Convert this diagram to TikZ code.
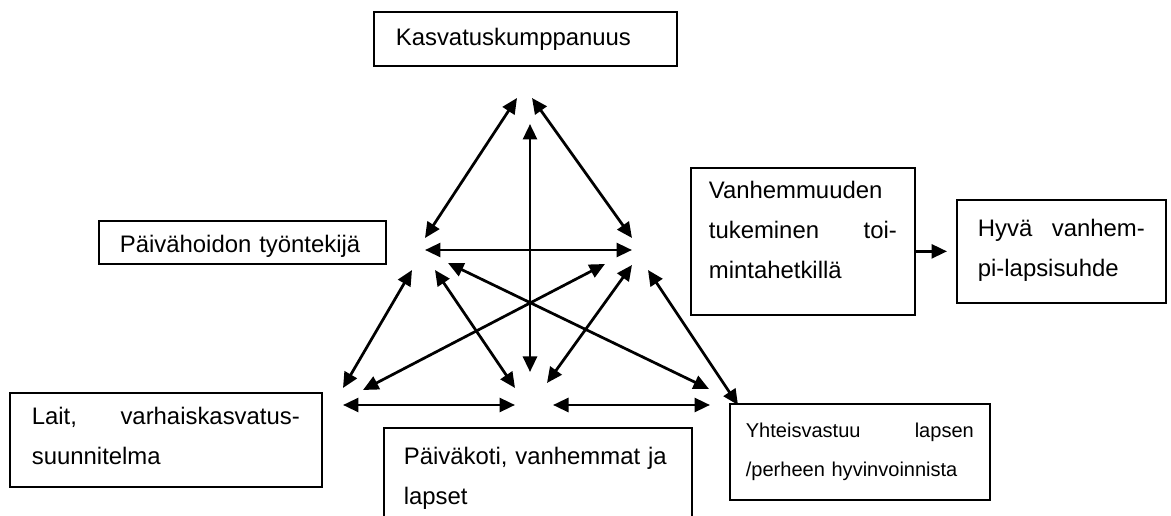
\documentclass[tikz,border=0pt]{standalone}
\usepackage{fontspec}
\setmainfont{Liberation Sans}
\usetikzlibrary{arrows.meta}

\begin{document}
\begin{tikzpicture}[x=0.02cm, y=-0.02cm,
        >={Triangle[length=0.31cm, width=0.28cm]},
        box/.style={draw, line width=0.035cm, anchor=north west, inner ysep=0pt,
            align=left, font=\fontsize{13.6}{22.7}\selectfont},
        link/.style={<->, line width=0.055cm},
        lead/.style={->, line width=0.055cm}]
        \useasboundingbox (0,0) rectangle (1171,516);

        \node[box, inner xsep=0.44cm, text width=5.18cm, text height=0.68cm, text depth=0.4cm]
            (kasv) at (373,11) {Kasvatuskumppanuus};
        \node[box, inner xsep=0.42cm, text width=4.9cm, text height=0.64cm, text depth=0.22cm]
            (tyontekija) at (98,220) {Päivähoidon työntekijä};
        \node[box, inner xsep=0.36cm, text width=3.76cm, text height=0.62cm, text depth=2.32cm]
            (tuki) at (690,167) {Vanhemmuuden\\tukeminen\hfill toi-\\mintahetkillä};
        \node[box, inner xsep=0.42cm, text width=3.34cm, text height=0.74cm, text depth=1.32cm]
            (suhde) at (956,199) {Hyvä\hfill vanhem-\\pi-lapsisuhde};
        \node[box, inner xsep=0.44cm, text width=5.36cm, text height=0.64cm, text depth=1.24cm]
            (lait) at (9,392) {Lait,\hfill varhaiskasvatus-\\suunnitelma};
        \node[box, inner xsep=0.4cm, text width=5.36cm, text height=0.74cm, text depth=1.92cm]
            (paivakoti) at (383,427) {Päiväkoti, vanhemmat ja\\lapset};
        \node[box, inner xsep=0.32cm, text width=4.56cm, text height=0.68cm, text depth=1.24cm,
            font=\fontsize{11.4}{22.1}\selectfont]
            (yhteis) at (729,403) {Yhteisvastuu\hfill lapsen\\/perheen hyvinvoinnista};

        \coordinate (topL) at (517,98);
        \coordinate (topR) at (532,98);
        \coordinate (topC) at (530,124);
        \coordinate (ulA) at (425,238);
        \coordinate (ulB) at (425,250);
        \coordinate (ulC) at (412,270);
        \coordinate (ulD) at (435,270);
        \coordinate (ulE) at (448,263);
        \coordinate (urA) at (632,238);
        \coordinate (urB) at (632,250);
        \coordinate (urC) at (648,270);
        \coordinate (urD) at (632,265);
        \coordinate (urE) at (605,264);
        \coordinate (llA) at (343,388);
        \coordinate (llB) at (363,390);
        \coordinate (llC) at (343,405);
        \coordinate (bcA) at (515,388);
        \coordinate (bcB) at (530,372);
        \coordinate (bcC) at (547,383);
        \coordinate (bcD) at (515,405);
        \coordinate (bcE) at (553,405);
        \coordinate (lrA) at (709,389);
        \coordinate (lrB) at (738,405);
        \coordinate (lrC) at (710,405);

        \draw[link] (topL) -- (ulA);
        \draw[link] (topR) -- (urA);
        \draw[link] (topC) -- (bcB);
        \draw[link] (ulB) -- (urB);
        \draw[link] (ulC) -- (llA);
        \draw[link] (urE) -- (llB);
        \draw[link] (ulD) -- (bcA);
        \draw[link] (ulE) -- (lrA);
        \draw[link] (urD) -- (bcC);
        \draw[link] (urC) -- (lrB);
        \draw[link] (llC) -- (bcD);
        \draw[link] (bcE) -- (lrC);

        \draw[lead, shorten >=0.18cm] (tuki.east |- suhde.west) -- (suhde.west);
    \end{tikzpicture}
\end{document}
